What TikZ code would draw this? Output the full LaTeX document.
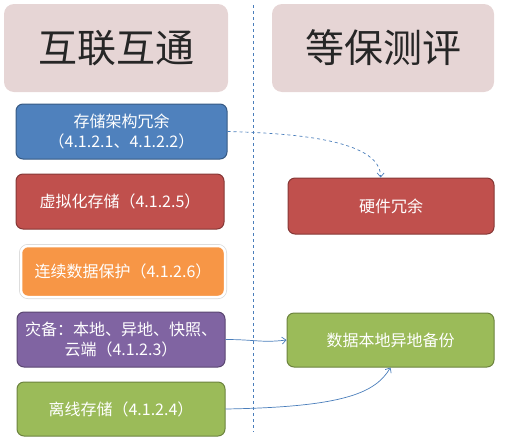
\documentclass[tikz,border=0pt]{standalone}
\usepackage{fontspec}
\setmainfont{Noto Sans CJK SC}
\usetikzlibrary{arrows.meta, positioning}
\definecolor{fenhong}{RGB}{230, 213, 213}
\definecolor{lan}{RGB}{79, 129, 189}
\definecolor{hong}{RGB}{192, 80, 77}
\definecolor{cheng}{RGB}{247, 150, 70}
\definecolor{zi}{RGB}{128, 100, 162}
\definecolor{lv}{RGB}{155, 187, 89}
\definecolor{xian}{RGB}{74, 126, 187}
\tikzset{
  biaoti/.style={
    fill=fenhong, rounded corners=10pt, minimum width=224pt, minimum height=88pt,
    font=\fontsize{39}{41}\selectfont, text=black!85
  },
  kuang/.style={
    draw, rounded corners=7pt, line width=1pt, minimum height=55pt,
    font=\fontsize{16}{20}\selectfont, text=white, align=center, inner sep=2pt
  },
  kuangLan/.style={kuang, fill=lan, draw=lan!70!black},
  kuangHong/.style={kuang, fill=hong, draw=hong!70!black},
  kuangCheng/.style={kuang, fill=cheng, draw=white, line width=2.5pt,
    preaction={draw=black!15, line width=4pt}},
  kuangZi/.style={kuang, fill=zi, draw=zi!70!black},
  kuangLv/.style={kuang, fill=lv, draw=lv!70!black},
  jiantou/.style={-{Straight Barb[length=4pt, width=7pt]}, xian, line width=0.7pt},
}

\begin{document}
\begin{tikzpicture}[
    x=1pt, y=-1pt,
    fenge/.style={xian, dashed, line width=0.8pt}
]
\useasboundingbox (0,0) rectangle (505,442);

% 标题
\node[biaoti] (hulian) at (116,48) {互联互通};
\node[biaoti, minimum width=222pt] (dengbao) at (383,48) {等保测评};

% 分隔线
\draw[fenge] (253,5) -- (253,432);

% 左列
\node[kuangLan, minimum width=211pt] (jiagou) at (121.5,131.5)
  {存储架构冗余\\（4.1.2.1、4.1.2.2）};
\node[kuangHong, minimum width=208pt] (xuni) at (120,201.5)
  {虚拟化存储（4.1.2.5）};
\node[kuangCheng, minimum width=204pt, minimum height=51pt] (lianxu) at (123,271.5)
  {连续数据保护（4.1.2.6）};
\node[kuangZi, minimum width=208pt] (zaibei) at (121,339.5)
  {灾备：本地、异地、快照、\\云端（4.1.2.3）};
\node[kuangLv, minimum width=208pt, minimum height=54pt] (lixian) at (121,409)
  {离线存储（4.1.2.4）};

% 右列
\node[kuangHong, minimum width=206pt, minimum height=56pt] (yingjian) at (391,206)
  {硬件冗余};
\node[kuangLv, minimum width=207pt, minimum height=54pt] (beifen) at (390.5,340)
  {数据本地异地备份};

% 连线
\draw[jiantou, dashed] (jiagou.east) .. controls +(80,2) and +(0,-35) .. (yingjian.110);
\draw[jiantou] (zaibei.east) .. controls +(30,0) and +(-25,3) .. (beifen.west);
\draw[jiantou] (lixian.east) .. controls +(120,-2) and +(-15,25) .. (beifen.south);

\end{tikzpicture}
\end{document}
